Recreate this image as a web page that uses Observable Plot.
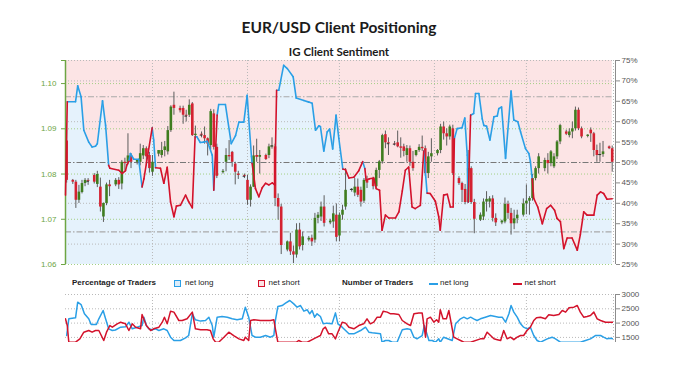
<!DOCTYPE html>
<html><head><meta charset="utf-8">
<script src="https://cdn.jsdelivr.net/npm/d3@7"></script>
<script src="https://cdn.jsdelivr.net/npm/@observablehq/plot@0.6"></script>
<style>
html,body{margin:0;padding:0;background:#fff;}
#root{position:relative;width:690px;height:378px;overflow:hidden;background:#fff;font-family:"Liberation Sans",Arial,sans-serif;}
.layer{position:absolute;left:0;}
.layer svg{overflow:visible;}
.title{position:absolute;left:65px;width:548px;text-align:center;font-family:Lato,"Open Sans",sans-serif;font-weight:700;color:#1b1b1b;white-space:nowrap;}
.lg{position:absolute;top:278px;font-size:8px;line-height:10px;color:#222;white-space:nowrap;}
.lgb{font-weight:700;}
.sq{position:absolute;top:279.5px;width:5px;height:5px;border:1.5px solid;}
.ln{position:absolute;top:282.5px;width:9px;height:2px;}
</style></head>
<body><div id="root">
<div class="title" style="top:17.5px;font-size:15.5px;line-height:18.6px;">EUR/USD Client Positioning</div>
<div class="title" style="top:44.5px;font-size:11.5px;line-height:13.8px;">IG Client Sentiment</div>
<div id="pct" class="layer" style="top:0"></div>
<div id="price" class="layer" style="top:0"></div>
<div id="line" class="layer" style="top:0"></div>
<div class="lg lgb" style="left:72px">Percentage of Traders</div>
<div class="sq" style="left:174px;border-color:#2a9fe6;background:#dcedfa"></div>
<div class="lg" style="left:185px">net long</div>
<div class="sq" style="left:257.5px;border-color:#d3122b;background:#fbe1e4"></div>
<div class="lg" style="left:268.5px">net short</div>
<div class="lg lgb" style="left:342px">Number of Traders</div>
<div class="ln" style="left:428.5px;background:#2a9fe6"></div>
<div class="lg" style="left:440px">net long</div>
<div class="ln" style="left:513px;background:#d3122b"></div>
<div class="lg" style="left:524.5px">net short</div>
<div id="count" class="layer" style="top:290px"></div>
</div>
<script>
// ---- time axis: days since 1 Feb 2024 ----
const xDomain = [0.62, 179.42];
const monthStarts = [29, 60, 90, 121, 151];   // 1 Mar, 1 Apr, 1 May, 1 Jun, 1 Jul

// ---- tick labels ----
const priceTicks = [1.06, 1.07, 1.08, 1.09, 1.10];
const pctTicks = [25, 30, 35, 40, 45, 50, 55, 60, 65, 70, 75];
const pctGrid = [30, 40, 60, 70, 75];
const pctBands = [66.1, 33];
const countTicks = [1500, 2000, 2500, 3000];

// ---- EUR/USD daily candles ----
const cDay = [1,3,4,5,6,7,8,10,11,12,13,14,15,17,18,19,20,21,22,24,25,26,27,28,29,31,32,33,34,35,36,38,39,40,41,42,43,45,46,47,48,49,50,52,53,54,55,56,57,59,60,61,62,63,64,66,67,68,69,70,71,73,74,75,76,77,78,80,81,82,83,84,85,87,88,89,90,91,92,94,95,96,97,98,99,101,102,103,104,105,106,108,109,110,111,112,113,114,115,116,117,118,119,120,122,123,124,125,126,127,129,130,131,132,133,134,136,137,138,139,140,141,143,144,145,146,147,148,150,151,152,153,154,155,157,158,159,160,161,162,164,165,166,167,168,169,171,172,173,174,175,176,178,179];
const cOpen = [1.0873,1.0786,1.0782,1.0742,1.0759,1.0779,1.0786,1.0797,1.0777,1.0771,1.0705,1.0735,1.0776,1.0776,1.0786,1.0778,1.0826,1.0826,1.0840,1.0826,1.0826,1.0840,1.0856,1.0841,1.0804,1.0844,1.0841,1.0852,1.0849,1.0896,1.0952,1.0945,1.0945,1.0930,1.0930,1.0955,1.0885,1.0888,1.0885,1.0878,1.0863,1.0933,1.0859,1.0803,1.0826,1.0841,1.0848,1.0822,1.0800,1.0797,1.0786,1.0742,1.0771,1.0841,1.0837,1.0841,1.0841,1.0860,1.0860,1.0746,1.0727,1.0632,1.0650,1.0628,1.0621,1.0676,1.0642,1.0654,1.0658,1.0654,1.0702,1.0705,1.0727,1.0692,1.0694,1.0709,1.0663,1.0709,1.0727,1.0764,1.0758,1.0771,1.0764,1.0740,1.0786,1.0790,1.0772,1.0808,1.0827,1.0887,1.0869,1.0867,1.0869,1.0860,1.0860,1.0841,1.0856,1.0826,1.0841,1.0852,1.0859,1.0856,1.0801,1.0838,1.0845,1.0852,1.0904,1.0889,1.0882,1.0900,1.0790,1.0779,1.0766,1.0737,1.0812,1.0737,1.0698,1.0705,1.0738,1.0738,1.0745,1.0702,1.0692,1.0694,1.0733,1.0713,1.0690,1.0701,1.0709,1.0734,1.0740,1.0746,1.0790,1.0812,1.0812,1.0830,1.0823,1.0816,1.0838,1.0871,1.0893,1.0885,1.0893,1.0900,1.0941,1.0900,1.0883,1.0897,1.0889,1.0852,1.0841,1.0843,1.0860,1.0856];
const cHigh = [1.0897,1.0788,1.0786,1.0775,1.0786,1.0790,1.0790,1.0801,1.0806,1.0791,1.0736,1.0780,1.0786,1.0790,1.0792,1.0830,1.0835,1.0889,1.0845,1.0832,1.0866,1.0863,1.0860,1.0848,1.0841,1.0850,1.0870,1.0872,1.0905,1.0951,1.0981,1.0950,1.0950,1.0941,1.0964,1.0958,1.0906,1.0893,1.0904,1.0880,1.0943,1.0942,1.0866,1.0810,1.0856,1.0874,1.0850,1.0826,1.0806,1.0800,1.0797,1.0776,1.0862,1.0877,1.0852,1.0844,1.0866,1.0880,1.0866,1.0756,1.0733,1.0652,1.0669,1.0641,1.0690,1.0691,1.0672,1.0662,1.0665,1.0713,1.0715,1.0738,1.0752,1.0700,1.0729,1.0734,1.0714,1.0731,1.0812,1.0768,1.0790,1.0789,1.0771,1.0790,1.0795,1.0793,1.0813,1.0830,1.0888,1.0895,1.0880,1.0872,1.0895,1.0880,1.0866,1.0863,1.0862,1.0850,1.0852,1.0865,1.0884,1.0862,1.0848,1.0878,1.0854,1.0910,1.0915,1.0900,1.0908,1.0908,1.0794,1.0782,1.0777,1.0852,1.0816,1.0744,1.0714,1.0745,1.0761,1.0750,1.0752,1.0712,1.0698,1.0747,1.0740,1.0724,1.0720,1.0720,1.0745,1.0776,1.0750,1.0799,1.0816,1.0845,1.0835,1.0845,1.0852,1.0845,1.0874,1.0910,1.0897,1.0900,1.0915,1.0948,1.0946,1.0904,1.0887,1.0902,1.0892,1.0864,1.0868,1.0872,1.0862,1.0862];
const cLow = [1.0780,1.0777,1.0724,1.0735,1.0756,1.0772,1.0775,1.0778,1.0770,1.0716,1.0693,1.0730,1.0750,1.0772,1.0766,1.0765,1.0808,1.0820,1.0812,1.0820,1.0818,1.0832,1.0818,1.0802,1.0795,1.0838,1.0835,1.0838,1.0842,1.0892,1.0930,1.0935,1.0910,1.0915,1.0925,1.0883,1.0878,1.0880,1.0866,1.0840,1.0853,1.0853,1.0790,1.0800,1.0805,1.0830,1.0815,1.0776,1.0788,1.0790,1.0731,1.0727,1.0770,1.0826,1.0800,1.0830,1.0834,1.0855,1.0728,1.0698,1.0622,1.0628,1.0620,1.0602,1.0614,1.0632,1.0630,1.0650,1.0640,1.0647,1.0690,1.0695,1.0683,1.0688,1.0680,1.0650,1.0650,1.0698,1.0720,1.0760,1.0750,1.0748,1.0727,1.0735,1.0768,1.0765,1.0768,1.0790,1.0822,1.0856,1.0841,1.0862,1.0858,1.0835,1.0838,1.0826,1.0817,1.0806,1.0838,1.0848,1.0850,1.0795,1.0790,1.0826,1.0840,1.0845,1.0875,1.0862,1.0875,1.0797,1.0775,1.0737,1.0732,1.0735,1.0733,1.0668,1.0695,1.0697,1.0716,1.0725,1.0694,1.0684,1.0688,1.0690,1.0700,1.0665,1.0677,1.0690,1.0705,1.0710,1.0709,1.0740,1.0785,1.0800,1.0805,1.0800,1.0816,1.0812,1.0832,1.0865,1.0885,1.0880,1.0878,1.0895,1.0896,1.0878,1.0880,1.0870,1.0838,1.0826,1.0826,1.0837,1.0854,1.0804];
const cClose = [1.0786,1.0782,1.0742,1.0760,1.0779,1.0786,1.0784,1.0782,1.0799,1.0727,1.0735,1.0776,1.0772,1.0786,1.0776,1.0826,1.0823,1.0840,1.0826,1.0830,1.0845,1.0856,1.0838,1.0812,1.0826,1.0852,1.0852,1.0860,1.0896,1.0948,1.0945,1.0940,1.0930,1.0928,1.0952,1.0885,1.0888,1.0886,1.0878,1.0866,1.0938,1.0859,1.0795,1.0806,1.0841,1.0838,1.0826,1.0804,1.0797,1.0795,1.0742,1.0771,1.0840,1.0837,1.0841,1.0832,1.0860,1.0862,1.0746,1.0727,1.0642,1.0650,1.0628,1.0621,1.0676,1.0639,1.0661,1.0658,1.0650,1.0702,1.0709,1.0727,1.0691,1.0696,1.0712,1.0660,1.0709,1.0720,1.0764,1.0766,1.0771,1.0753,1.0738,1.0786,1.0780,1.0772,1.0808,1.0827,1.0885,1.0869,1.0867,1.0866,1.0860,1.0857,1.0850,1.0856,1.0826,1.0812,1.0852,1.0859,1.0856,1.0801,1.0838,1.0845,1.0852,1.0904,1.0889,1.0882,1.0904,1.0801,1.0779,1.0764,1.0737,1.0812,1.0737,1.0700,1.0709,1.0738,1.0744,1.0745,1.0702,1.0692,1.0696,1.0733,1.0713,1.0690,1.0701,1.0709,1.0734,1.0740,1.0746,1.0790,1.0812,1.0838,1.0830,1.0823,1.0849,1.0838,1.0871,1.0907,1.0888,1.0893,1.0900,1.0941,1.0900,1.0882,1.0886,1.0889,1.0852,1.0841,1.0843,1.0849,1.0856,1.0826];

// ---- IG client sentiment: % of traders net long ----
const pctDay = [0.62,1.2,3.9,4.6,5.7,6.6,8.2,9.3,10.4,11.0,12.7,13.7,14.7,15.1,18.0,19.1,20.2,20.7,21.3,21.8,22.9,24.5,25.6,26.2,28.9,29.4,30.0,31.6,32.7,33.8,34.9,36.0,36.8,38.1,39.8,40.8,42.0,42.9,43.5,44.6,45.7,46.9,48.5,49.0,50.1,50.6,52.8,54.7,56.1,57.2,58.8,59.9,60.4,61.3,61.5,62.6,63.7,64.8,65.9,67.0,68.1,68.9,69.5,70.2,71.8,73.0,74.9,75.9,78.4,80.0,81.1,82.2,83.3,83.8,84.9,86.0,86.8,87.8,88.9,89.8,91.1,92.0,93.1,94.7,96.3,97.6,98.3,98.7,99.8,101.2,102.0,103.1,103.9,105.0,106.1,108.3,109.4,110.5,111.5,112.6,113.7,114.7,116.4,117.5,118.6,119.6,121.3,122.4,122.9,124.0,125.2,126.2,127.1,127.5,128.4,130.0,130.9,131.7,132.0,132.8,133.8,134.4,135.5,136.6,137.1,138.0,139.1,140.4,141.5,142.0,142.9,144.2,146.0,146.9,148.2,149.1,150.7,151.8,152.3,152.9,153.4,154.7,156.2,157.6,158.9,160.2,161.0,162.1,163.2,164.3,165.9,167.6,168.6,169.7,170.8,173.0,174.1,175.2,176.2,177.3,179.0];
const pctLong = [42.0,64.9,64.9,68.8,66.1,57.9,55.0,53.8,54.0,54.6,65.1,59.1,49.3,48.6,48.1,47.3,48.0,49.5,50.3,52.2,50.8,50.8,44.0,46.0,58.5,55.5,48.7,48.6,44.9,48.8,40.3,36.7,39.3,39.5,42.0,40.4,38.9,56.3,56.3,54.9,55.0,55.2,51.8,43.2,61.6,64.2,64.2,54.6,56.6,59.9,59.9,66.5,60.8,51.4,49.8,43.6,41.6,43.8,44.9,44.5,45.0,44.5,67.7,67.7,73.8,73.0,71.0,65.8,65.2,64.8,64.5,57.9,59.0,58.8,52.8,57.5,58.2,53.3,61.6,55.9,48.4,48.2,46.2,46.4,48.0,50.2,48.5,45.7,46.0,46.2,43.6,43.2,33.4,37.1,36.4,36.4,37.9,43.0,48.1,48.9,39.1,38.7,39.5,52.8,42.5,42.4,40.5,36.7,33.4,42.0,42.2,39.1,39.1,55.9,58.3,58.5,60.9,51.8,40.3,61.6,62.0,66.9,66.9,60.7,59.1,58.9,55.5,61.2,61.4,63.2,63.6,51.0,67.5,60.4,60.0,57.5,53.4,52.2,50.3,46.0,41.2,39.1,35.0,38.7,39.5,38.3,36.3,35.5,28.9,31.5,31.5,28.5,32.3,37.9,37.1,37.1,42.0,42.8,42.4,41.0,41.1];

// ---- number of traders ----
const longDay = [1.0,1.7,3.9,4.6,5.7,6.8,8.2,9.0,10.7,11.5,12.9,13.7,14.7,15.9,16.9,18.6,20.2,21.3,22.4,24.0,25.6,26.2,27.0,27.8,28.9,30.0,31.1,32.7,33.8,34.9,36.0,38.1,39.8,40.8,42.0,43.0,44.7,46.3,47.4,48.5,49.0,50.1,51.7,53.4,55.0,56.6,58.3,59.3,60.4,61.5,62.6,64.2,65.9,67.5,68.6,69.1,69.9,71.3,72.4,73.8,75.1,76.2,77.3,78.4,79.5,80.3,81.1,81.9,82.7,83.8,84.7,86.0,87.6,88.7,89.5,90.9,92.0,93.1,94.7,96.9,98.5,99.6,100.7,103.4,103.9,105.0,106.1,107.2,108.8,110.5,112.1,113.2,114.3,115.3,116.2,117.0,117.7,119.2,120.3,121.3,122.4,122.9,124.0,126.8,127.9,129.5,130.6,131.7,132.8,133.8,134.9,136.0,137.6,139.3,142.0,143.1,144.2,145.3,146.0,146.9,148.0,149.1,150.1,151.2,152.3,153.4,154.5,155.6,157.8,159.4,160.5,162.1,164.3,166.5,168.6,170.3,171.9,173.5,175.2,176.2,177.3,178.4,179.5];
const longCount = [1566,2150,2185,2731,2650,2325,2150,1951,1951,2150,2441,2150,1800,1741,1760,1858,1870,2032,1800,1858,1916,2207,1916,1800,1766,1800,1741,1800,1741,1508,1392,1392,1485,1566,2325,2116,2070,2091,2207,1916,1508,2207,2230,2207,2150,2116,2150,2557,2207,1566,1508,1508,1566,1508,1566,2091,2580,2615,2697,2790,2673,2557,2615,2418,2465,2325,2441,2207,2325,2230,1975,1999,1975,2358,1975,1858,1741,1625,1625,1740,1858,1683,1660,1625,1330,1392,1392,1330,1330,1766,1800,1780,1508,1450,1508,1566,1916,1392,1392,1330,1450,1330,1508,1392,1975,2150,2207,2150,2207,2150,2091,2150,2207,2266,2207,2207,2032,2325,2616,2384,2207,1975,1857,1800,1857,1566,1392,1333,1450,1508,1450,1333,1333,1333,1333,1392,1450,1566,1566,1508,1450,1470,1450];
const shortDay = [0.6,1.2,1.7,3.9,5.3,6.6,8.2,9.3,10.4,11.5,13.1,14.0,15.1,15.9,17.5,18.6,20.2,21.3,22.4,23.5,25.1,25.6,27.0,28.4,29.4,31.1,32.2,32.9,33.8,34.9,36.0,37.6,38.7,40.3,42.0,43.0,44.7,46.8,47.9,48.8,49.6,50.6,52.3,53.9,55.5,57.2,58.8,59.3,60.4,61.0,62.1,64.2,65.9,67.5,68.6,69.1,69.9,76.0,76.7,77.8,79.5,81.6,82.7,83.8,84.7,85.4,86.5,87.6,88.7,89.5,90.9,92.0,93.1,94.7,96.3,97.9,99.0,100.1,101.2,102.3,103.4,104.3,105.6,106.7,107.7,109.4,110.5,112.1,113.2,114.3,115.9,117.0,117.5,118.1,118.6,119.7,120.8,121.7,122.4,122.9,123.8,124.9,125.7,127.3,128.4,129.5,130.6,132.8,136.0,137.1,138.2,139.3,140.4,141.5,142.6,143.6,144.7,145.8,146.9,148.0,149.1,150.1,151.2,152.3,153.4,154.3,155.6,157.2,158.3,159.9,161.6,162.7,163.8,164.9,166.5,167.6,168.6,169.7,170.8,171.9,173.0,174.1,175.2,176.8,178.4,179.5];
const shortCount = [2150,1916,1333,1333,1450,1683,1741,1683,1741,1741,1392,1683,1916,1858,1975,2032,1975,1741,1975,1858,1800,2301,1916,1741,1800,1858,2032,2207,1975,2417,2384,2091,2091,2150,2384,1800,1766,1766,1741,1450,1333,1333,1508,1683,1566,1450,1392,1508,1392,2091,2116,2091,2091,2091,2116,1800,1333,1333,1392,1333,1333,1450,1508,1566,1800,1858,1625,1625,1450,1683,2032,2000,1858,1800,1916,1975,2150,1975,2032,2207,2207,2417,2384,2325,2325,2301,2091,1975,1916,2325,2350,2350,1975,1508,2150,2207,2032,2116,2032,2465,2150,2150,2441,1508,1450,1392,1333,1333,1450,1450,1683,1566,1450,1420,1392,1741,1450,1508,1420,1508,1566,1566,1741,1858,2091,2185,2207,2150,2290,2266,2301,2441,2384,2535,2557,2616,2384,2207,2230,2266,2384,2150,2091,2032,2032,2032];

// ---- colours ----
const BLUE = "#2a9fe6", RED = "#d3122b", UP = "#3f7d1f", DOWN = "#d42231";
const FILL_BLUE = "#e5f2fc", FILL_PINK = "#fce4e5";
const GRID = "#b9b9b9", GREEN_GRID = "#a3cf84", GREEN_AXIS = "#6da543";

const W = 690, ML = 65, MR = 77;
const base = {width: W, height: 272, marginTop: 60, marginBottom: 8, marginLeft: ML, marginRight: MR,
  style: {background: "transparent", overflow: "visible", fontFamily: "'Liberation Sans', Arial, sans-serif"}};
const xOpt = {type: "linear", domain: xDomain, axis: null};

const pctRows = pctDay.map((d, i) => ({d, v: pctLong[i]}));
const segs = pctRows.slice(1).map((r, i) => ({x1: pctRows[i].d, y1: pctRows[i].v, x2: r.d, y2: r.v, long: pctRows[i].v >= 50}));
const candles = cDay.map((d, i) => ({d, o: cOpen[i], h: cHigh[i], l: cLow[i], c: cClose[i]}));

// layer 1: sentiment fills, grid, right axis
document.getElementById("pct").append(Plot.plot({
  ...base,
  x: xOpt, y: {domain: [25, 75], axis: null, label: null},
  marks: [
    Plot.areaY(pctRows, {x: "d", y1: 25, y2: "v", fill: FILL_BLUE}),
    Plot.areaY(pctRows, {x: "d", y1: "v", y2: 75, fill: FILL_PINK}),
    Plot.ruleY(pctGrid, {stroke: GRID, strokeDasharray: "1,2"}),
    Plot.ruleX(monthStarts, {stroke: GRID, strokeDasharray: "1,2"}),
    Plot.ruleX([xDomain[1]], {stroke: GRID, strokeDasharray: "1,2"}),
    Plot.ruleY(pctBands, {stroke: "#a9a9a9", strokeWidth: 1.1, strokeDasharray: "6,2,1.5,2"}),
    Plot.ruleY([50], {stroke: "#787878", strokeWidth: 1.2, strokeDasharray: "6,2,1.5,2"}),
    Plot.ruleX([xDomain[1]], {stroke: "#8c8c8c", dx: 2}),
    Plot.axisY({anchor: "right", label: null, ticks: pctTicks, tickFormat: d => d + "%", tickSize: 4, tickPadding: 2, dx: 2,
      stroke: "#8c8c8c", fill: "#555", fontSize: 8})
  ]
}));

// layer 2: price grid, candles, left axis
document.getElementById("price").append(Plot.plot({
  ...base,
  x: xOpt, y: {domain: [1.06, 1.1051], axis: null, label: null},
  marks: [
    Plot.ruleY(priceTicks, {stroke: GREEN_GRID, strokeDasharray: "1,2"}),
    Plot.ruleX(candles, {x: "d", y1: "l", y2: "h", stroke: "#5d5d5d", strokeWidth: 1}),
    Plot.ruleX(candles.filter(k => k.c > k.o), {x: "d", y1: "o", y2: "c", stroke: UP, strokeWidth: 2.6}),
    Plot.ruleX(candles.filter(k => k.c < k.o), {x: "d", y1: "o", y2: "c", stroke: DOWN, strokeWidth: 2.6}),
    Plot.ruleY(candles.filter(k => Math.abs(k.c - k.o) < 0.00025), {y: "c", x1: k => k.d - 0.42, x2: k => k.d + 0.42, stroke: "#333", strokeWidth: 1}),
    Plot.ruleX([xDomain[0]], {stroke: GREEN_AXIS, strokeWidth: 1.5}),
    Plot.axisY({anchor: "left", label: null, ticks: priceTicks, tickFormat: d3.format(".2f"), tickSize: 4, tickPadding: 5,
      stroke: GREEN_AXIS, fill: GREEN_AXIS, fontSize: 8}),
    Plot.axisY({anchor: "left", label: null, ticks: [1.1051], tickFormat: () => "", tickSize: 4, stroke: GREEN_AXIS})
  ]
}));

// layer 3: sentiment line, coloured by side
document.getElementById("line").append(Plot.plot({
  ...base,
  x: xOpt, y: {domain: [25, 75], axis: null, label: null},
  marks: [
    Plot.link(segs.filter(s => s.long), {x1: "x1", y1: "y1", x2: "x2", y2: "y2", stroke: BLUE, strokeWidth: 1.6, strokeLinecap: "round"}),
    Plot.link(segs.filter(s => !s.long), {x1: "x1", y1: "y1", x2: "x2", y2: "y2", stroke: RED, strokeWidth: 1.6, strokeLinecap: "round"})
  ]
}));

// lower panel: number of traders
const longRows = longDay.map((d, i) => ({d, v: longCount[i]}));
const shortRows = shortDay.map((d, i) => ({d, v: shortCount[i]}));
document.getElementById("count").append(Plot.plot({
  width: W, height: 52, marginTop: 4, marginBottom: 0, marginLeft: ML, marginRight: MR,
  style: {background: "transparent", overflow: "visible", fontFamily: "'Liberation Sans', Arial, sans-serif"},
  x: xOpt, y: {domain: [1322, 3000], axis: null, label: null},
  marks: [
    Plot.ruleY(countTicks, {stroke: GRID, strokeDasharray: "1,2"}),
    Plot.ruleX(monthStarts, {stroke: GRID, strokeDasharray: "1,2"}),
    Plot.ruleX([xDomain[1]], {stroke: GRID, strokeDasharray: "1,2"}),
    Plot.line(longRows, {x: "d", y: "v", stroke: BLUE, strokeWidth: 1.5, clip: true}),
    Plot.line(shortRows, {x: "d", y: "v", stroke: RED, strokeWidth: 1.5, clip: true}),
    Plot.ruleX([xDomain[1]], {stroke: "#8c8c8c", dx: 2}),
    Plot.axisY({anchor: "right", label: null, ticks: countTicks, tickFormat: d => String(d), tickSize: 4, tickPadding: 2, dx: 2,
      stroke: "#8c8c8c", fill: "#555", fontSize: 8})
  ]
}));
</script>
</body></html>
